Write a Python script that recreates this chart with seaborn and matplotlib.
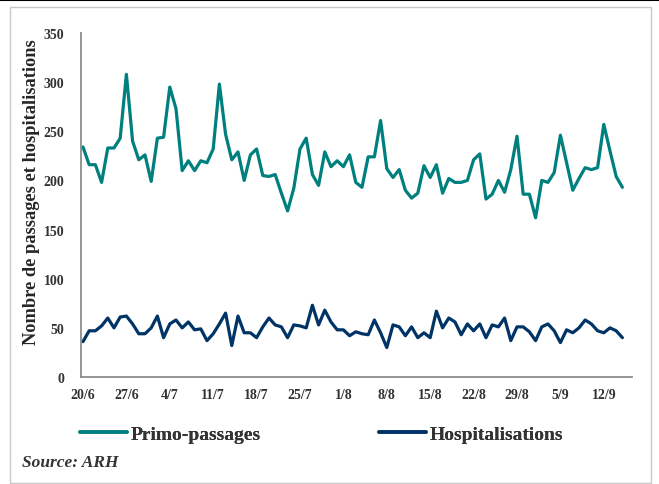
import numpy as np
import pandas as pd
import matplotlib
matplotlib.use("Agg")
import matplotlib.pyplot as plt
from matplotlib.lines import Line2D
from matplotlib.patches import Rectangle
import seaborn as sns

# ---------------- data ----------------
tick_labels = ["20/6", "27/6", "4/7", "11/7", "18/7", "25/7", "1/8", "8/8",
               "15/8", "22/8", "29/8", "5/9", "12/9"]
y_ticks = [0, 50, 100, 150, 200, 250, 300, 350]

primo = [234, 216, 216, 198, 233, 233, 243, 308, 240, 221,
         226, 199, 243, 244, 295, 273, 210, 220, 210, 220,
         218, 232, 298, 247, 221, 229, 200, 226, 232, 205,
         204, 206, 187, 169, 192, 232, 243, 206, 195, 229,
         214, 220, 214, 226, 198, 193, 224, 224, 261, 212,
         203, 211, 190, 182, 187, 215, 203, 216, 187, 202,
         198, 198, 200, 221, 227, 181, 186, 200, 188, 211,
         245, 186, 186, 162, 200, 198, 208, 246, 218, 190,
         202, 213, 211, 213, 257, 230, 204, 193]

hosp = [36, 47, 47, 52, 60, 50, 61, 62, 54, 44,
        44, 50, 62, 40, 54, 58, 50, 56, 48, 49,
        37, 44, 54, 65, 32, 62, 45, 45, 40, 51,
        60, 53, 51, 40, 53, 52, 50, 73, 53, 68,
        56, 48, 48, 42, 46, 44, 43, 58, 45, 30,
        53, 51, 42, 51, 40, 45, 40, 67, 50, 60,
        56, 43, 54, 47, 54, 40, 53, 51, 60, 37,
        51, 51, 46, 37, 51, 54, 47, 35, 48, 45,
        50, 58, 54, 47, 45, 50, 47, 40]

series_names = ["Primo-passages", "Hospitalisations"]
colors = ["#007F7F", "#003366"]

days = np.arange(len(primo))
df = pd.DataFrame({
    "day": np.concatenate([days, days]),
    "value": primo + hosp,
    "serie": [series_names[0]] * len(primo) + [series_names[1]] * len(hosp),
})

# ---------------- style ----------------
sns.set_style("white")
plt.rcParams["font.family"] = ["Liberation Serif", "DejaVu Serif"]
plt.rcParams["font.weight"] = "bold"

W, H = 659, 485
fig = plt.figure(figsize=(W / 100, H / 100), dpi=100)
ax = fig.add_axes([81 / W, 1 - 378 / H, (632 - 81) / W, (378 - 34) / H])

sns.lineplot(data=df, x="day", y="value", hue="serie", palette=colors,
             linewidth=2.3, ax=ax, legend=False)

ax.set_xlim(-0.32, 88.55)
ax.set_ylim(0, 350)
ax.set_xticks(np.arange(0, 7 * len(tick_labels), 7))
ax.set_xticklabels(tick_labels)
ax.set_yticks(y_ticks)
ax.set_yticklabels([str(v) for v in y_ticks])
ax.set_xlabel("")
ax.set_ylabel("")

for s in ["top", "right"]:
    ax.spines[s].set_visible(False)
for s in ["left", "bottom"]:
    ax.spines[s].set_color("#8c8c8c")
    ax.spines[s].set_linewidth(1.3)

ax.tick_params(axis="both", which="both", direction="out", length=3,
               width=1, color="#8c8c8c", labelsize=10, labelcolor="#333333")
ax.tick_params(axis="y", pad=9)
ax.tick_params(axis="x", pad=5)
for lab in ax.get_xticklabels() + ax.get_yticklabels():
    lab.set_fontweight("bold")

# y label
fig.text(32 / W, 1 - 192 / H, "Nombre de passages et hospitalisations",
         rotation=90, ha="center", va="center", fontsize=13.2,
         fontweight="bold", color="#262626")

# legend (two separate entries placed below the axes)
for name, col, xpos in [(series_names[0], colors[0], 80),
                        (series_names[1], colors[1], 379)]:
    h = Line2D([], [], color=col, linewidth=2.6)
    leg = fig.legend([h], [name], loc="center left",
                     bbox_to_anchor=(xpos / W, 1 - 435 / H),
                     frameon=False, borderpad=0, borderaxespad=0,
                     handlelength=2.4, handletextpad=0.22,
                     prop={"family": "Liberation Serif", "weight": "bold",
                           "size": 14})
    for t in leg.get_texts():
        t.set_color("#333333")
    fig.add_artist(leg)

# source
fig.text(22 / W, 1 - 463 / H, "Source: ARH", ha="left", va="center",
         fontsize=12.5, fontweight="bold", fontstyle="italic", color="#333333")

# outer frame and top rule
fig.add_artist(Rectangle((10 / W, 1 - 484 / H), (651 - 10) / W, (484 - 8) / H,
                         transform=fig.transFigure, fill=False,
                         edgecolor="#c8c8c8", linewidth=1))
fig.add_artist(Line2D([0, 1], [1 - 1 / H, 1 - 1 / H],
                      transform=fig.transFigure, color="black", linewidth=1.5))

fig.savefig("out.png", dpi=100)
